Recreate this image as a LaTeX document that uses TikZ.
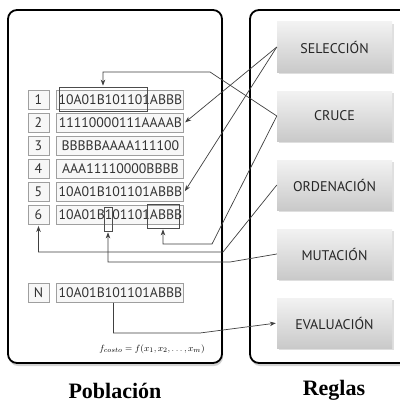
\documentclass[tikz,border=0pt]{standalone}
\usepackage{fontspec}
\newfontfamily\cadfont{PT Sans}
\newfontfamily\titfont{Liberation Serif}
\usetikzlibrary{arrows.meta,shadows,positioning}

\begin{document}
\begin{tikzpicture}[x=1pt,y=-1pt,->,>={Stealth[length=6pt,width=4.5pt]},shorten >=1pt,node distance=23pt,
    panel/.style={-,draw=black,line width=1.8pt,rounded corners=9pt,fill=white,drop shadow={opacity=0.35,shadow xshift=1pt,shadow yshift=-3pt}},
    num/.style={draw=gray!75,line width=0.9pt,fill=gray!6,minimum width=21pt,minimum height=19pt,inner sep=0pt,text=black!80,font=\cadfont\fontsize{13.8}{14}\selectfont},
    cadena/.style={num,minimum width=127pt},
    marca/.style={draw=black!70,line width=0.8pt,minimum height=24pt,inner sep=0pt},
    regla/.style={top color=gray!10,bottom color=gray!42,minimum width=115pt,minimum height=50pt,text=black!85,font=\cadfont\fontsize{14}{15}\selectfont,drop shadow={opacity=0.25,shadow xshift=2pt,shadow yshift=-2pt}},
    titulo/.style={font=\titfont\bfseries\fontsize{22}{24}\selectfont},
    linea/.style={draw=black!75,line width=0.7pt}]

  \useasboundingbox (0,0) rectangle (399,404);

  \path[panel] (8,10) rectangle (222,363);
  \path[panel] (250,10) rectangle (412,363);

  \node[num]                 (n1) at (38.5,100) {1};
  \node[num]                 (n2) [below of=n1] {2};
  \node[num]                 (n3) [below of=n2] {3};
  \node[num]                 (n4) [below of=n3] {4};
  \node[num]                 (n5) [below of=n4] {5};
  \node[num]                 (n6) [below of=n5] {6};
  \node[num]                 (nN) at (38.5,293) {N};

  \node[cadena]              (c1) [right=7pt of n1] {10A01B101101ABBB};
  \node[cadena]              (c2) [right=7pt of n2] {11110000111AAAAB};
  \node[cadena]              (c3) [right=7pt of n3] {BBBBBAAAA111100};
  \node[cadena]              (c4) [right=7pt of n4] {AAA11110000BBBB};
  \node[cadena]              (c5) [right=7pt of n5] {10A01B101101ABBB};
  \node[cadena]              (c6) [right=7pt of n6] {10A01B101101ABBB};
  \node[cadena]              (cN) [right=7pt of nN] {10A01B101101ABBB};

  \node[marca,minimum width=88pt] (m1)  at (103,99)  {};
  \node[marca,minimum width=8pt]  (m6a) at (108,219) {};
  \node[marca,minimum width=32pt] (m6b) at (163,216) {};

  \begin{scope}[node distance=69pt]
  \node[regla]               (sel) at (334.5,47) {SELECCIÓN};
  \node[regla]               (cru) [below of=sel] {CRUCE};
  \node[regla]               (ord) [below of=cru] {ORDENACIÓN};
  \node[regla]               (mut) [below of=ord] {MUTACIÓN};
  \node[regla]               (eva) [below of=mut] {EVALUACIÓN};
  \end{scope}

  \node (costo) at (152,349) {\fontsize{9.5}{11}\selectfont $f_{costo}=f(x_1,x_2,\ldots,x_m)$};
  \node[titulo] (pob) at (115,391) {Población};
  \node[titulo] (reg) at (334,390) {Reglas};

  \draw[linea] (cru.west) -- (210,72) -| (m1.north);
  \draw[linea] (sel.west) -- (c2.east);
  \draw[linea] (sel.west) -- (c5.east);
  \draw[linea] (cru.west) -- (212,244) -| (m6b.south);
  \draw[linea] (ord.west) -- (223,252) -| (n6.south);
  \draw[linea] (mut.west) -- (230,262) -| (m6a.south);
  \draw[linea] ([xshift=-7pt]cN.south) |- (200,333) -- (eva.west);

\end{tikzpicture}
\end{document}
